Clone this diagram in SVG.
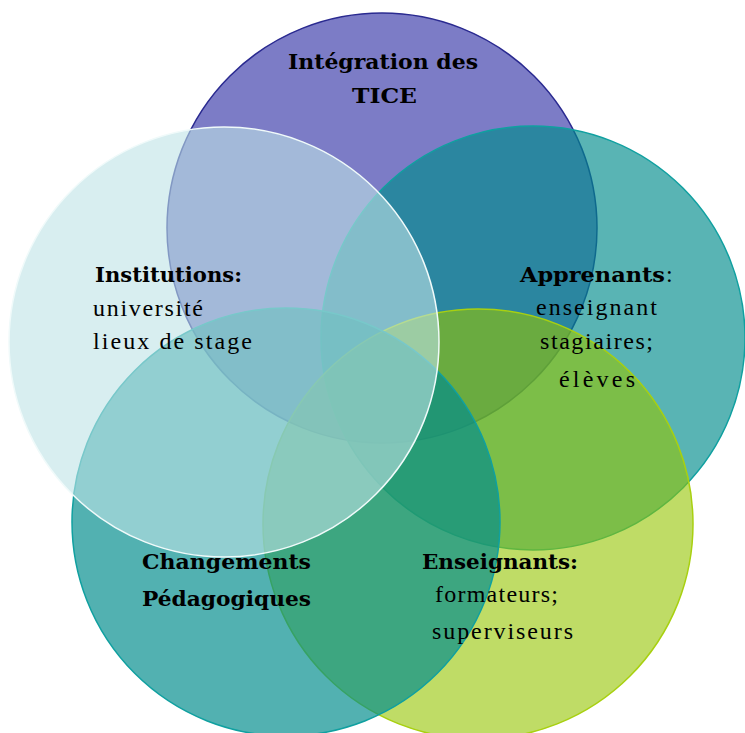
<svg xmlns="http://www.w3.org/2000/svg" width="745" height="733" viewBox="0 0 745 733">
<style>
.c{stroke-width:1.5}
.b{font-family:"DejaVu Serif","Liberation Serif",serif;font-weight:bold;font-size:21px;fill:#000}
.r{font-family:"Liberation Serif","DejaVu Serif",serif;font-size:24px;fill:#000}
</style>
<rect width="745" height="733" fill="#ffffff"/>
<g id="node-tice"><circle class="c" cx="382" cy="228" r="215" fill="#2424a0" fill-opacity="0.6" stroke="#2a2a90"/></g>
<g id="node-apprenants"><circle class="c" cx="533" cy="338" r="212" fill="#008c8c" fill-opacity="0.65" stroke="#10a0a0"/></g>
<g id="node-enseignants"><circle class="c" cx="478" cy="524" r="215" fill="#94c400" fill-opacity="0.6" stroke="#a8d010"/></g>
<g id="node-changements"><circle class="c" cx="286" cy="522" r="214" fill="#008c8c" fill-opacity="0.68" stroke="#10a0a0"/></g>
<g id="node-institutions"><circle class="c" cx="224" cy="342" r="215" fill="#bee3e6" fill-opacity="0.6" stroke="#f0fafa"/></g>
<g id="label-tice">
<text class="b" x="288" y="69" textLength="190" lengthAdjust="spacingAndGlyphs">Intégration des</text>
<text class="b" x="352" y="103" textLength="65" lengthAdjust="spacingAndGlyphs">TICE</text>
</g>
<g id="label-institutions">
<text class="b" x="95" y="282" textLength="147" lengthAdjust="spacingAndGlyphs">Institutions:</text>
<text class="r" x="93" y="316" textLength="110" lengthAdjust="spacing">université</text>
<text class="r" x="93" y="349" textLength="159" lengthAdjust="spacing">lieux de stage</text>
</g>
<g id="label-apprenants">
<text class="b" x="520" y="282" textLength="145" lengthAdjust="spacingAndGlyphs">Apprenants</text>
<text class="r" x="666" y="282">:</text>
<text class="r" x="536" y="315" textLength="121" lengthAdjust="spacing">enseignant</text>
<text class="r" x="540" y="349" textLength="113" lengthAdjust="spacing">stagiaires;</text>
<text class="r" x="559" y="387" textLength="76" lengthAdjust="spacing">élèves</text>
</g>
<g id="label-changements">
<text class="b" x="142" y="569" textLength="169" lengthAdjust="spacingAndGlyphs">Changements</text>
<text class="b" x="142" y="606" textLength="169" lengthAdjust="spacingAndGlyphs">Pédagogiques</text>
</g>
<g id="label-enseignants">
<text class="b" x="422" y="569" textLength="156" lengthAdjust="spacingAndGlyphs">Enseignants:</text>
<text class="r" x="435" y="602" textLength="123" lengthAdjust="spacing">formateurs;</text>
<text class="r" x="432" y="639" textLength="141" lengthAdjust="spacing">superviseurs</text>
</g>
</svg>
